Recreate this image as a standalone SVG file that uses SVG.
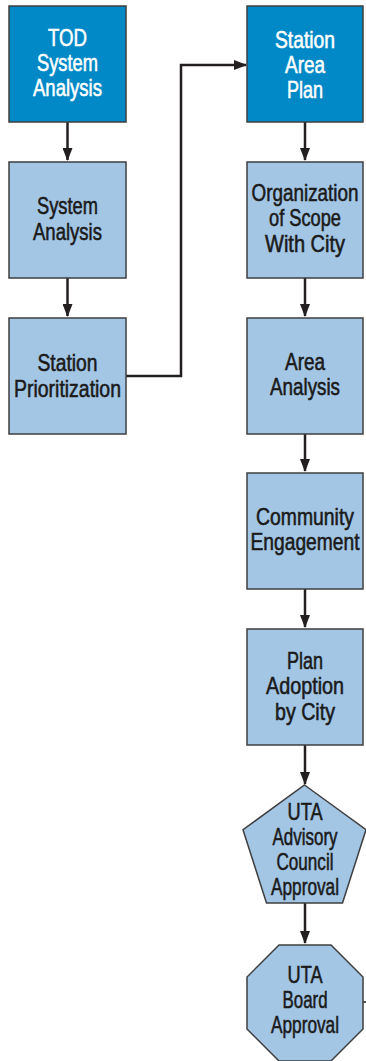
<svg xmlns="http://www.w3.org/2000/svg" width="366" height="1061" viewBox="0 0 366 1061">
<defs>
<marker id="ah" markerWidth="13" markerHeight="10" refX="12" refY="5" viewBox="0 0 13 10" markerUnits="userSpaceOnUse" orient="auto">
<path d="M0,0 L13,5 L0,10 Z" fill="#231f20"/>
</marker>
<style>
.dark{fill:#0089c6;stroke:#3f3f3f;stroke-width:1.5}
.light{fill:#a3c6e5;stroke:#3f3f3f;stroke-width:1.5}
.t{font-family:"Liberation Sans",Arial,sans-serif;font-size:23px;text-anchor:middle;stroke-width:0.55}
.tw{fill:#ffffff;stroke:#ffffff}
.tb{fill:#1a1a1a;stroke:#1a1a1a}
.c{fill:none;stroke:#231f20;stroke-width:2.5}
</style>
</defs>
<rect width="366" height="1061" fill="#ffffff"/>
<g id="connectors">
<path class="c" d="M67.5,122 V160" marker-end="url(#ah)"/>
<path class="c" d="M67.5,278 V316" marker-end="url(#ah)"/>
<path class="c" d="M126,376 H181 V65 H246" marker-end="url(#ah)"/>
<path class="c" d="M305,122 V160" marker-end="url(#ah)"/>
<path class="c" d="M305,278 V316" marker-end="url(#ah)"/>
<path class="c" d="M305,434 V471" marker-end="url(#ah)"/>
<path class="c" d="M305,589 V627" marker-end="url(#ah)"/>
<path class="c" d="M305,745 V784" marker-end="url(#ah)"/>
<path class="c" d="M305,903 V943" marker-end="url(#ah)"/>
<path d="M363,1002 H366" fill="none" stroke="#231f20" stroke-width="1.5"/>
</g>
<g id="tod">
<rect class="dark" x="9" y="6" width="117" height="116"/>
<text class="t tw" transform="matrix(0.8 0 0 1 67.5 0)"><tspan x="0" y="46" textLength="48.75" lengthAdjust="spacingAndGlyphs">TOD</tspan><tspan x="0" y="71" textLength="76.25" lengthAdjust="spacingAndGlyphs">System</tspan><tspan x="0" y="96" textLength="86.25" lengthAdjust="spacingAndGlyphs">Analysis</tspan></text>
</g>
<g id="system">
<rect class="light" x="9" y="162" width="117" height="116"/>
<text class="t tb" transform="matrix(0.8 0 0 1 67.5 0)"><tspan x="0" y="214" textLength="76.25" lengthAdjust="spacingAndGlyphs">System</tspan><tspan x="0" y="240" textLength="86.25" lengthAdjust="spacingAndGlyphs">Analysis</tspan></text>
</g>
<g id="prior">
<rect class="light" x="9" y="318" width="117" height="116"/>
<text class="t tb" transform="matrix(0.8 0 0 1 67.5 0)"><tspan x="0" y="371" textLength="75" lengthAdjust="spacingAndGlyphs">Station</tspan><tspan x="0" y="397" textLength="133.75" lengthAdjust="spacingAndGlyphs">Prioritization</tspan></text>
</g>
<g id="sap">
<rect class="dark" x="247" y="6" width="116" height="116"/>
<text class="t tw" transform="matrix(0.8 0 0 1 305 0)"><tspan x="0" y="48" textLength="75" lengthAdjust="spacingAndGlyphs">Station</tspan><tspan x="0" y="73" textLength="50" lengthAdjust="spacingAndGlyphs">Area</tspan><tspan x="0" y="98" textLength="45" lengthAdjust="spacingAndGlyphs">Plan</tspan></text>
</g>
<g id="org">
<rect class="light" x="247" y="162" width="116" height="116"/>
<text class="t tb" transform="matrix(0.8 0 0 1 305 0)"><tspan x="0" y="201" textLength="133.75" lengthAdjust="spacingAndGlyphs">Organization</tspan><tspan x="0" y="226" textLength="90" lengthAdjust="spacingAndGlyphs">of Scope</tspan><tspan x="0" y="252" textLength="100" lengthAdjust="spacingAndGlyphs">With City</tspan></text>
</g>
<g id="area">
<rect class="light" x="247" y="318" width="116" height="116"/>
<text class="t tb" transform="matrix(0.8 0 0 1 305 0)"><tspan x="0" y="370" textLength="50" lengthAdjust="spacingAndGlyphs">Area</tspan><tspan x="0" y="395" textLength="87.5" lengthAdjust="spacingAndGlyphs">Analysis</tspan></text>
</g>
<g id="community">
<rect class="light" x="247" y="473" width="116" height="116"/>
<text class="t tb" transform="matrix(0.8 0 0 1 305 0)"><tspan x="0" y="525" textLength="122.5" lengthAdjust="spacingAndGlyphs">Community</tspan><tspan x="0" y="550" textLength="136.25" lengthAdjust="spacingAndGlyphs">Engagement</tspan></text>
</g>
<g id="adoption">
<rect class="light" x="247" y="629" width="116" height="116"/>
<text class="t tb" transform="matrix(0.8 0 0 1 305 0)"><tspan x="0" y="669" textLength="45" lengthAdjust="spacingAndGlyphs">Plan</tspan><tspan x="0" y="694" textLength="97.5" lengthAdjust="spacingAndGlyphs">Adoption</tspan><tspan x="0" y="720" textLength="75" lengthAdjust="spacingAndGlyphs">by City</tspan></text>
</g>
<g id="advisory">
<polygon class="light" points="304.5,785 366,829.7 342.5,903 266.5,903 243,829.7"/>
<text class="t tb" transform="matrix(0.8 0 0 1 305 0)"><tspan x="0" y="820" textLength="43.75" lengthAdjust="spacingAndGlyphs">UTA</tspan><tspan x="0" y="845" textLength="81.25" lengthAdjust="spacingAndGlyphs">Advisory</tspan><tspan x="0" y="870" textLength="71.25" lengthAdjust="spacingAndGlyphs">Council</tspan><tspan x="0" y="895" textLength="85" lengthAdjust="spacingAndGlyphs">Approval</tspan></text>
</g>
<g id="board">
<polygon class="light" points="279,945 331,945 363,977 363,1029 331,1061 279,1061 247,1029 247,977"/>
<text class="t tb" transform="matrix(0.8 0 0 1 305 0)"><tspan x="0" y="983" textLength="43.75" lengthAdjust="spacingAndGlyphs">UTA</tspan><tspan x="0" y="1008" textLength="56.25" lengthAdjust="spacingAndGlyphs">Board</tspan><tspan x="0" y="1033" textLength="85" lengthAdjust="spacingAndGlyphs">Approval</tspan></text>
</g>
</svg>
